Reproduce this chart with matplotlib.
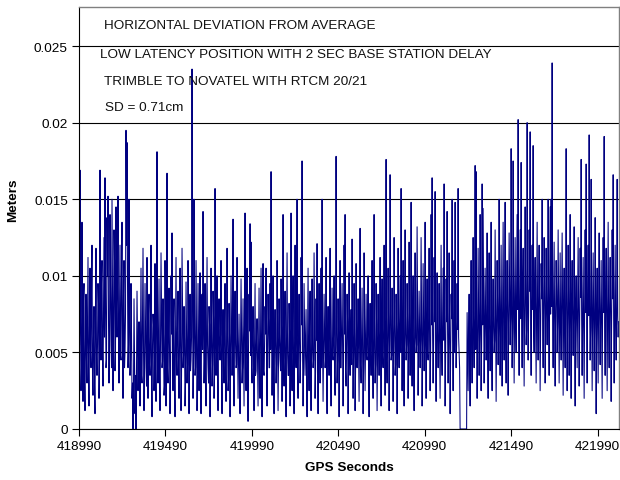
import matplotlib
matplotlib.use("Agg")
import matplotlib.pyplot as plt
import numpy as np

# horizontal deviation, in units of 0.1 mm left to right
# seg_* are the peaks/troughs per pixel column, mid_* the samples in between
seg_a = [90, 169, 25, 135, 18, 95, 12, 88, 30, 112, 15, 105, 40, 120, 22, 80, 10, 118, 35, 95,
         20, 169, 45, 110, 28, 125, 164, 40, 138, 152, 30, 140, 55, 150, 25, 130, 38, 145, 60, 152,
         30, 120, 45, 135, 20, 110, 50, 195, 187, 40, 150, 35, 95, 20, 0, 85, 10, 0, 90, 25]
mid_a = [55, 70, 40, 62, 85, 30, 58, 45, 72, 38, 66, 50, 90, 35, 60, 28, 75, 48, 55, 82,
         42, 65, 95, 50, 78, 60, 88, 45, 100, 70, 58, 92, 40, 85, 65, 110, 52, 78, 95, 68,
         80, 48, 102, 60, 88, 40, 75, 120, 96, 55, 70, 45, 62, 30, 28, 50, 35, 40, 58, 45]
seg_b = [70, 15, 105, 30, 118, 12, 95, 40, 112, 20, 88, 35, 120, 8, 75, 25, 108, 18, 181, 30,
         98, 12, 115, 40, 85, 22, 110, 15, 167, 30, 92, 10, 100, 128, 25, 85, 8, 112, 35, 90,
         20, 105, 12, 118, 40, 80, 15, 96, 30, 110, 10, 88, 45, 235, 20, 150, 35, 110, 12, 95]
mid_b = [48, 62, 35, 70, 52, 40, 66, 28, 58, 75, 42, 60, 30, 55, 68, 45, 38, 72, 50, 62,
         35, 58, 80, 44, 60, 28, 70, 52, 40, 65, 48, 35, 62, 55, 72, 30, 58, 46, 68, 40,
         55, 62, 35, 78, 48, 58, 30, 64, 42, 70, 55, 38, 60, 90, 48, 66, 40, 58, 35, 62]
seg_c = [25, 102, 10, 88, 142, 30, 95, 15, 112, 40, 80, 8, 105, 28, 90, 20, 157, 35, 100, 12,
         85, 45, 110, 10, 78, 30, 95, 18, 118, 25, 82, 8, 100, 35, 137, 15, 90, 40, 112, 20,
         75, 10, 98, 30, 85, 15, 141, 25, 105, 5, 88, 134, 122, 30, 80, 12, 95, 38, 72, 15]
mid_c = [58, 40, 65, 52, 70, 45, 38, 62, 55, 30, 68, 48, 60, 42, 72, 35, 58, 50, 40, 66,
         52, 62, 35, 58, 48, 70, 40, 55, 62, 32, 60, 45, 68, 50, 38, 64, 55, 42, 60, 48,
         36, 58, 66, 40, 52, 70, 45, 60, 38, 55, 64, 48, 40, 62, 50, 58, 35, 60, 45, 52]
seg_d = [92, 20, 105, 8, 108, 35, 80, 105, 15, 88, 40, 95, 168, 22, 100, 10, 78, 30, 110, 12,
         85, 45, 98, 18, 140, 28, 90, 8, 115, 35, 82, 15, 141, 25, 100, 10, 120, 40, 150, 20,
         88, 30, 112, 175, 15, 95, 35, 78, 8, 105, 25, 90, 12, 98, 40, 115, 20, 85, 121, 10]
mid_d = [42, 60, 50, 68, 38, 55, 62, 45, 58, 70, 40, 52, 65, 48, 35, 60, 55, 42, 68, 50,
         58, 38, 62, 52, 45, 66, 40, 58, 50, 35, 62, 55, 48, 70, 42, 58, 52, 64, 38, 60,
         55, 45, 68, 50, 40, 62, 58, 35, 55, 48, 66, 42, 60, 52, 45, 70, 38, 58, 50, 62]
seg_e = [95, 30, 105, 150, 18, 88, 40, 112, 10, 80, 35, 118, 15, 92, 45, 100, 22, 178, 30, 85,
         8, 110, 40, 95, 15, 120, 140, 28, 88, 10, 102, 35, 78, 124, 20, 95, 12, 108, 40, 85,
         18, 131, 30, 92, 10, 115, 25, 88, 45, 100, 8, 82, 35, 110, 20, 140, 30, 95, 12, 88]
mid_e = [55, 62, 40, 58, 50, 66, 45, 38, 60, 52, 70, 42, 58, 48, 62, 35, 55, 68, 45, 60,
         52, 40, 66, 55, 48, 62, 38, 58, 70, 45, 52, 60, 42, 65, 50, 58, 38, 62, 55, 48,
         68, 42, 60, 52, 40, 64, 55, 48, 62, 38, 58, 50, 66, 45, 60, 52, 42, 68, 50, 58]
seg_f = [35, 112, 15, 98, 40, 120, 22, 176, 30, 105, 12, 166, 45, 92, 18, 125, 35, 88, 10, 118,
         40, 100, 157, 25, 110, 15, 130, 45, 95, 20, 122, 35, 148, 28, 100, 12, 115, 50, 132, 22,
         90, 40, 125, 15, 108, 38, 135, 20, 98, 45, 118, 25, 140, 164, 30, 112, 155, 18, 102, 40]
mid_f = [62, 55, 70, 48, 65, 58, 72, 45, 60, 68, 52, 75, 48, 62, 58, 70, 42, 65, 55, 60,
         72, 50, 68, 58, 45, 66, 62, 55, 70, 48, 64, 58, 52, 72, 45, 68, 60, 55, 74, 50,
         62, 58, 68, 48, 70, 55, 62, 66, 50, 72, 58, 48, 68, 62, 55, 70, 52, 65, 58, 60]
seg_g = [95, 20, 120, 35, 105, 160, 15, 98, 142, 30, 115, 10, 88, 150, 25, 110, 148, 40, 95, 157,
         50, 0, 0, 0, 0, 0, 0, 0, 76, 25, 88, 15, 110, 30, 125, 40, 172, 168, 20, 118,
         35, 140, 25, 160, 144, 30, 105, 45, 128, 20, 115, 38, 135, 25, 98, 50, 130, 18, 110, 42]
mid_g = [60, 68, 52, 72, 58, 65, 48, 70, 62, 55, 68, 45, 72, 58, 62, 50, 70, 55, 65, 60,
         40, 0, 0, 0, 0, 0, 0, 0, 50, 62, 45, 70, 55, 68, 60, 72, 52, 66, 58, 75,
         62, 70, 55, 68, 80, 58, 72, 62, 55, 78, 60, 68, 52, 75, 65, 58, 70, 62, 80, 66]
seg_h = [150, 35, 120, 28, 135, 45, 148, 30, 110, 22, 128, 55, 183, 40, 175, 30, 125, 50, 140, 202,
         35, 130, 174, 40, 118, 28, 145, 55, 200, 45, 130, 194, 35, 120, 185, 50, 112, 30, 135, 45,
         120, 25, 108, 150, 40, 125, 30, 118, 55, 150, 35, 145, 150, 239, 40, 122, 28, 110, 50, 130]
mid_h = [72, 80, 65, 88, 70, 78, 62, 85, 75, 68, 90, 72, 80, 66, 85, 74, 70, 92, 78, 68,
         85, 72, 80, 95, 70, 78, 88, 65, 82, 76, 90, 70, 84, 78, 66, 92, 75, 80, 70, 88,
         78, 65, 85, 72, 80, 90, 68, 82, 76, 70, 88, 75, 80, 72, 85, 68, 78, 90, 70, 82]
seg_i = [30, 115, 45, 128, 22, 105, 40, 183, 25, 120, 35, 140, 20, 110, 48, 132, 15, 100, 40, 125,
         28, 118, 176, 35, 112, 20, 130, 173, 30, 120, 192, 45, 163, 25, 115, 38, 138, 10, 105, 30,
         128, 42, 110, 20, 125, 191, 35, 118, 25, 135, 40, 112, 18, 130, 166, 30, 120, 45, 163, 60]
mid_i = [75, 68, 85, 72, 80, 65, 90, 74, 70, 82, 76, 68, 88, 72, 78, 65, 84, 70, 80, 75,
         68, 86, 72, 78, 65, 82, 76, 70, 88, 74, 80, 66, 85, 72, 78, 68, 82, 75, 70, 86,
         72, 78, 65, 84, 76, 70, 88, 72, 80, 66, 82, 75, 70, 85, 72, 78, 68, 80, 74, 70]

peaks = seg_a + seg_b + seg_c + seg_d + seg_e + seg_f + seg_g + seg_h + seg_i
mids = mid_a + mid_b + mid_c + mid_d + mid_e + mid_f + mid_g + mid_h + mid_i
deviation = np.column_stack([peaks, mids]).ravel() / 10000.0

gps_start = 418990
gps_end = 422112
gps_seconds = np.linspace(gps_start, gps_end, len(deviation))

x_ticks = [418990, 419490, 419990, 420490, 420990, 421490, 421990]
y_ticks = [0, 0.005, 0.01, 0.015, 0.02, 0.025]
y_tick_labels = ["0", "0.005", "0.01", "0.015", "0.02", "0.025"]

notes = [
    "HORIZONTAL DEVIATION FROM AVERAGE",
    "LOW LATENCY POSITION WITH 2 SEC BASE STATION DELAY",
    "TRIMBLE TO NOVATEL WITH RTCM 20/21",
    "SD = 0.71cm",
]

plt.rcParams['font.family'] = ['Liberation Sans', 'DejaVu Sans']
fs = 9.7

fig = plt.figure(figsize=(6.2, 4.81), dpi=100)
ax = fig.add_axes([79 / 620, 1 - 430 / 481, 540 / 620, 422 / 481])

ax.set_axisbelow(True)
ax.plot(gps_seconds, deviation, color='#000080', lw=0.75)

ax.set_xlim(gps_start, 422114)
ax.set_ylim(0, 0.02755)
ax.set_xticks(x_ticks)
ax.set_xticklabels([str(t) for t in x_ticks], fontsize=fs)
ax.set_yticks(y_ticks)
ax.set_yticklabels(y_tick_labels, fontsize=fs)
ax.tick_params(direction='out', length=5, width=0.8, color='black', pad=3)
ax.yaxis.grid(True, color='black', lw=0.8)

for side in ['top', 'right']:
    ax.spines[side].set_color('#808080')
    ax.spines[side].set_linewidth(1.0)
for side in ['left', 'bottom']:
    ax.spines[side].set_color('black')
    ax.spines[side].set_linewidth(0.8)

# annotation block, placed in figure pixels
note_pos = [(104, 25.7), (100.5, 55), (104, 82), (105, 108)]
for txt, (px, py) in zip(notes, note_pos):
    fig.text(px / 620, 1 - py / 481, txt, fontsize=fs, ha='left', va='center', color='#111111')

fig.text(13.5 / 620, 1 - 200 / 481, "Meters", fontsize=fs, fontweight='bold',
         rotation=90, ha='center', va='center')
fig.text(349 / 620, 1 - 468 / 481, "GPS Seconds", fontsize=fs, fontweight='bold',
         ha='center', va='center')

fig.savefig("out.png", dpi=100)
